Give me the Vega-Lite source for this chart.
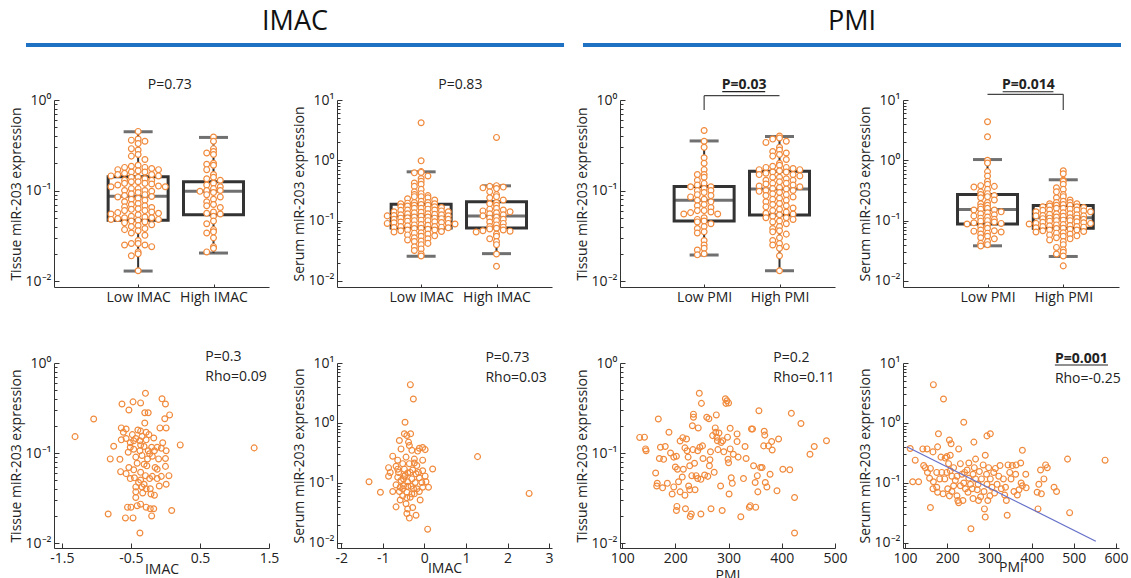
{
"$schema": "https://vega.github.io/schema/vega-lite/v6.json",
"background": "white",
"padding": {"left": 9, "top": 8, "right": 0, "bottom": 0},
"config": {
  "font": "Open Sans",
  "view": {"stroke": null},
  "axis": {"domainColor": "#333", "tickColor": "#333", "labelColor": "#222", "titleColor": "#222", "labelFontSize": 14, "titleFontSize": 14, "titleFontWeight": "normal", "grid": false, "labelFont": "Open Sans", "titleFont": "Open Sans", "labelFlush": false, "labelOverlap": false},
  "text": {"font": "Open Sans"}
},
"datasets": {
  "sections": [{"s": "IMAC"}, {"s": "PMI"}],
  "notes": [{"id":"p1","label":"P=0.73"},{"id":"p2","label":"P=0.83"},{"id":"p3","label":"P=0.03"},{"id":"p4","label":"P=0.014"},{"id":"p5a","label":"P=0.3"},{"id":"p5b","label":"Rho=0.09"},{"id":"p6a","label":"P=0.73"},{"id":"p6b","label":"Rho=0.03"},{"id":"p7a","label":"P=0.2"},{"id":"p7b","label":"Rho=0.11"},{"id":"p8a","label":"P=0.001"},{"id":"p8b","label":"Rho=-0.25"}],
  "st_ti": [{"g":1,"lo":0.0129,"q1":0.047,"md":0.0865,"q3":0.1416,"hi":0.446},{"g":2,"lo":0.0204,"q1":0.054,"md":0.098,"q3":0.125,"hi":0.386}],
  "st_si": [{"g":1,"lo":0.0257,"q1":0.0759,"md":0.12,"q3":0.1876,"hi":0.645},{"g":2,"lo":0.0284,"q1":0.0759,"md":0.12,"q3":0.205,"hi":0.378}],
  "st_tp": [{"g":1,"lo":0.0194,"q1":0.046,"md":0.078,"q3":0.111,"hi":0.353},{"g":2,"lo":0.013,"q1":0.0537,"md":0.104,"q3":0.163,"hi":0.395}],
  "st_sp": [{"g":1,"lo":0.0383,"q1":0.088,"md":0.1525,"q3":0.271,"hi":1.03},{"g":2,"lo":0.0255,"q1":0.0745,"md":0.112,"q3":0.178,"hi":0.476}],
  "bp_ti": [
{"g":1,"v":0.45},{"g":1,"v":0.37},{"g":1,"v":0.36},{"g":1,"v":0.35},{"g":1,"v":0.33},{"g":1,"v":0.29},{"g":1,"v":0.28},{"g":1,"v":0.25},{"g":1,"v":0.24},{"g":1,"v":0.22},
{"g":1,"v":0.19},{"g":1,"v":0.185},{"g":1,"v":0.18},{"g":1,"v":0.18},{"g":1,"v":0.175},{"g":1,"v":0.17},{"g":1,"v":0.17},{"g":1,"v":0.165},{"g":1,"v":0.16},{"g":1,"v":0.16},
{"g":1,"v":0.155},{"g":1,"v":0.15},{"g":1,"v":0.15},{"g":1,"v":0.145},{"g":1,"v":0.145},{"g":1,"v":0.14},{"g":1,"v":0.14},{"g":1,"v":0.135},{"g":1,"v":0.13},{"g":1,"v":0.13},
{"g":1,"v":0.125},{"g":1,"v":0.125},{"g":1,"v":0.12},{"g":1,"v":0.12},{"g":1,"v":0.118},{"g":1,"v":0.115},{"g":1,"v":0.112},{"g":1,"v":0.11},{"g":1,"v":0.11},{"g":1,"v":0.105},
{"g":1,"v":0.105},{"g":1,"v":0.1},{"g":1,"v":0.1},{"g":1,"v":0.098},{"g":1,"v":0.095},{"g":1,"v":0.092},{"g":1,"v":0.09},{"g":1,"v":0.088},{"g":1,"v":0.086},{"g":1,"v":0.085},
{"g":1,"v":0.082},{"g":1,"v":0.08},{"g":1,"v":0.078},{"g":1,"v":0.075},{"g":1,"v":0.072},{"g":1,"v":0.07},{"g":1,"v":0.068},{"g":1,"v":0.066},{"g":1,"v":0.065},{"g":1,"v":0.063},
{"g":1,"v":0.062},{"g":1,"v":0.06},{"g":1,"v":0.06},{"g":1,"v":0.058},{"g":1,"v":0.057},{"g":1,"v":0.056},{"g":1,"v":0.055},{"g":1,"v":0.054},{"g":1,"v":0.052},{"g":1,"v":0.051},
{"g":1,"v":0.05},{"g":1,"v":0.05},{"g":1,"v":0.049},{"g":1,"v":0.048},{"g":1,"v":0.048},{"g":1,"v":0.047},{"g":1,"v":0.046},{"g":1,"v":0.045},{"g":1,"v":0.044},{"g":1,"v":0.042},
{"g":1,"v":0.041},{"g":1,"v":0.04},{"g":1,"v":0.038},{"g":1,"v":0.037},{"g":1,"v":0.036},{"g":1,"v":0.034},{"g":1,"v":0.032},{"g":1,"v":0.028},{"g":1,"v":0.026},{"g":1,"v":0.026},
{"g":1,"v":0.025},{"g":1,"v":0.025},{"g":1,"v":0.024},{"g":1,"v":0.021},{"g":1,"v":0.02},{"g":1,"v":0.019},{"g":1,"v":0.013},
{"g":2,"v":0.39},{"g":2,"v":0.35},{"g":2,"v":0.29},{"g":2,"v":0.27},{"g":2,"v":0.26},{"g":2,"v":0.25},{"g":2,"v":0.2},{"g":2,"v":0.195},{"g":2,"v":0.19},{"g":2,"v":0.17},
{"g":2,"v":0.15},{"g":2,"v":0.14},{"g":2,"v":0.135},{"g":2,"v":0.13},{"g":2,"v":0.12},{"g":2,"v":0.115},{"g":2,"v":0.11},{"g":2,"v":0.105},{"g":2,"v":0.1},{"g":2,"v":0.1},
{"g":2,"v":0.098},{"g":2,"v":0.095},{"g":2,"v":0.09},{"g":2,"v":0.085},{"g":2,"v":0.08},{"g":2,"v":0.075},{"g":2,"v":0.07},{"g":2,"v":0.068},{"g":2,"v":0.065},{"g":2,"v":0.058},
{"g":2,"v":0.056},{"g":2,"v":0.055},{"g":2,"v":0.052},{"g":2,"v":0.046},{"g":2,"v":0.043},{"g":2,"v":0.037},{"g":2,"v":0.035},{"g":2,"v":0.034},{"g":2,"v":0.03},{"g":2,"v":0.024},
{"g":2,"v":0.023},{"g":2,"v":0.021}
  ],
  "bp_si": [
{"g":1,"v":4.2},{"g":1,"v":0.98},{"g":1,"v":0.65},{"g":1,"v":0.63},{"g":1,"v":0.62},{"g":1,"v":0.55},{"g":1,"v":0.5},{"g":1,"v":0.45},{"g":1,"v":0.42},{"g":1,"v":0.4},
{"g":1,"v":0.37},{"g":1,"v":0.33},{"g":1,"v":0.3},{"g":1,"v":0.28},{"g":1,"v":0.27},{"g":1,"v":0.26},{"g":1,"v":0.25},{"g":1,"v":0.25},{"g":1,"v":0.24},{"g":1,"v":0.23},
{"g":1,"v":0.22},{"g":1,"v":0.21},{"g":1,"v":0.2},{"g":1,"v":0.2},{"g":1,"v":0.195},{"g":1,"v":0.19},{"g":1,"v":0.19},{"g":1,"v":0.185},{"g":1,"v":0.18},{"g":1,"v":0.18},
{"g":1,"v":0.175},{"g":1,"v":0.17},{"g":1,"v":0.17},{"g":1,"v":0.165},{"g":1,"v":0.16},{"g":1,"v":0.16},{"g":1,"v":0.155},{"g":1,"v":0.15},{"g":1,"v":0.15},{"g":1,"v":0.148},
{"g":1,"v":0.145},{"g":1,"v":0.14},{"g":1,"v":0.14},{"g":1,"v":0.138},{"g":1,"v":0.135},{"g":1,"v":0.13},{"g":1,"v":0.13},{"g":1,"v":0.128},{"g":1,"v":0.125},{"g":1,"v":0.125},
{"g":1,"v":0.122},{"g":1,"v":0.12},{"g":1,"v":0.12},{"g":1,"v":0.118},{"g":1,"v":0.115},{"g":1,"v":0.115},{"g":1,"v":0.112},{"g":1,"v":0.11},{"g":1,"v":0.11},{"g":1,"v":0.108},
{"g":1,"v":0.105},{"g":1,"v":0.105},{"g":1,"v":0.102},{"g":1,"v":0.1},{"g":1,"v":0.1},{"g":1,"v":0.098},{"g":1,"v":0.096},{"g":1,"v":0.095},{"g":1,"v":0.093},{"g":1,"v":0.092},
{"g":1,"v":0.09},{"g":1,"v":0.09},{"g":1,"v":0.088},{"g":1,"v":0.086},{"g":1,"v":0.085},{"g":1,"v":0.084},{"g":1,"v":0.082},{"g":1,"v":0.08},{"g":1,"v":0.08},{"g":1,"v":0.078},
{"g":1,"v":0.077},{"g":1,"v":0.076},{"g":1,"v":0.075},{"g":1,"v":0.074},{"g":1,"v":0.072},{"g":1,"v":0.07},{"g":1,"v":0.07},{"g":1,"v":0.068},{"g":1,"v":0.066},{"g":1,"v":0.065},
{"g":1,"v":0.063},{"g":1,"v":0.062},{"g":1,"v":0.06},{"g":1,"v":0.058},{"g":1,"v":0.056},{"g":1,"v":0.055},{"g":1,"v":0.052},{"g":1,"v":0.05},{"g":1,"v":0.048},{"g":1,"v":0.046},
{"g":1,"v":0.045},{"g":1,"v":0.042},{"g":1,"v":0.04},{"g":1,"v":0.037},{"g":1,"v":0.034},{"g":1,"v":0.032},{"g":1,"v":0.028},{"g":1,"v":0.026},
{"g":2,"v":2.4},{"g":2,"v":0.38},{"g":2,"v":0.37},{"g":2,"v":0.36},{"g":2,"v":0.35},{"g":2,"v":0.34},{"g":2,"v":0.3},{"g":2,"v":0.27},{"g":2,"v":0.25},{"g":2,"v":0.24},
{"g":2,"v":0.22},{"g":2,"v":0.2},{"g":2,"v":0.19},{"g":2,"v":0.18},{"g":2,"v":0.16},{"g":2,"v":0.155},{"g":2,"v":0.15},{"g":2,"v":0.145},{"g":2,"v":0.14},{"g":2,"v":0.135},
{"g":2,"v":0.13},{"g":2,"v":0.125},{"g":2,"v":0.12},{"g":2,"v":0.115},{"g":2,"v":0.11},{"g":2,"v":0.105},{"g":2,"v":0.1},{"g":2,"v":0.095},{"g":2,"v":0.09},{"g":2,"v":0.085},
{"g":2,"v":0.08},{"g":2,"v":0.078},{"g":2,"v":0.075},{"g":2,"v":0.073},{"g":2,"v":0.07},{"g":2,"v":0.068},{"g":2,"v":0.067},{"g":2,"v":0.065},{"g":2,"v":0.06},{"g":2,"v":0.055},
{"g":2,"v":0.05},{"g":2,"v":0.045},{"g":2,"v":0.04},{"g":2,"v":0.028},{"g":2,"v":0.0175}
  ],
  "bp_tp": [
{"g":1,"v":0.46},{"g":1,"v":0.35},{"g":1,"v":0.3},{"g":1,"v":0.23},{"g":1,"v":0.2},{"g":1,"v":0.17},{"g":1,"v":0.15},{"g":1,"v":0.15},{"g":1,"v":0.14},{"g":1,"v":0.13},
{"g":1,"v":0.12},{"g":1,"v":0.115},{"g":1,"v":0.11},{"g":1,"v":0.11},{"g":1,"v":0.105},{"g":1,"v":0.1},{"g":1,"v":0.1},{"g":1,"v":0.095},{"g":1,"v":0.09},{"g":1,"v":0.088},
{"g":1,"v":0.085},{"g":1,"v":0.08},{"g":1,"v":0.078},{"g":1,"v":0.075},{"g":1,"v":0.07},{"g":1,"v":0.068},{"g":1,"v":0.065},{"g":1,"v":0.06},{"g":1,"v":0.06},{"g":1,"v":0.058},
{"g":1,"v":0.057},{"g":1,"v":0.055},{"g":1,"v":0.055},{"g":1,"v":0.05},{"g":1,"v":0.048},{"g":1,"v":0.046},{"g":1,"v":0.045},{"g":1,"v":0.043},{"g":1,"v":0.04},{"g":1,"v":0.038},
{"g":1,"v":0.035},{"g":1,"v":0.034},{"g":1,"v":0.028},{"g":1,"v":0.025},{"g":1,"v":0.023},{"g":1,"v":0.022},{"g":1,"v":0.02},{"g":1,"v":0.0195},
{"g":2,"v":0.4},{"g":2,"v":0.38},{"g":2,"v":0.37},{"g":2,"v":0.35},{"g":2,"v":0.34},{"g":2,"v":0.3},{"g":2,"v":0.28},{"g":2,"v":0.27},{"g":2,"v":0.26},{"g":2,"v":0.25},
{"g":2,"v":0.24},{"g":2,"v":0.22},{"g":2,"v":0.2},{"g":2,"v":0.19},{"g":2,"v":0.185},{"g":2,"v":0.18},{"g":2,"v":0.18},{"g":2,"v":0.175},{"g":2,"v":0.17},{"g":2,"v":0.17},
{"g":2,"v":0.165},{"g":2,"v":0.16},{"g":2,"v":0.16},{"g":2,"v":0.155},{"g":2,"v":0.15},{"g":2,"v":0.15},{"g":2,"v":0.145},{"g":2,"v":0.14},{"g":2,"v":0.14},{"g":2,"v":0.135},
{"g":2,"v":0.13},{"g":2,"v":0.13},{"g":2,"v":0.125},{"g":2,"v":0.12},{"g":2,"v":0.12},{"g":2,"v":0.118},{"g":2,"v":0.115},{"g":2,"v":0.112},{"g":2,"v":0.11},{"g":2,"v":0.108},
{"g":2,"v":0.105},{"g":2,"v":0.104},{"g":2,"v":0.1},{"g":2,"v":0.1},{"g":2,"v":0.098},{"g":2,"v":0.095},{"g":2,"v":0.092},{"g":2,"v":0.09},{"g":2,"v":0.088},{"g":2,"v":0.085},
{"g":2,"v":0.082},{"g":2,"v":0.08},{"g":2,"v":0.078},{"g":2,"v":0.075},{"g":2,"v":0.072},{"g":2,"v":0.07},{"g":2,"v":0.068},{"g":2,"v":0.066},{"g":2,"v":0.064},{"g":2,"v":0.062},
{"g":2,"v":0.06},{"g":2,"v":0.058},{"g":2,"v":0.056},{"g":2,"v":0.055},{"g":2,"v":0.054},{"g":2,"v":0.052},{"g":2,"v":0.05},{"g":2,"v":0.05},{"g":2,"v":0.048},{"g":2,"v":0.046},
{"g":2,"v":0.045},{"g":2,"v":0.043},{"g":2,"v":0.04},{"g":2,"v":0.038},{"g":2,"v":0.036},{"g":2,"v":0.035},{"g":2,"v":0.033},{"g":2,"v":0.03},{"g":2,"v":0.028},{"g":2,"v":0.026},
{"g":2,"v":0.025},{"g":2,"v":0.024},{"g":2,"v":0.023},{"g":2,"v":0.019},{"g":2,"v":0.013}
  ],
  "bp_sp": [
{"g":1,"v":4.35},{"g":1,"v":2.45},{"g":1,"v":1.0},{"g":1,"v":0.9},{"g":1,"v":0.65},{"g":1,"v":0.55},{"g":1,"v":0.45},{"g":1,"v":0.4},{"g":1,"v":0.38},{"g":1,"v":0.37},
{"g":1,"v":0.36},{"g":1,"v":0.33},{"g":1,"v":0.3},{"g":1,"v":0.28},{"g":1,"v":0.27},{"g":1,"v":0.26},{"g":1,"v":0.25},{"g":1,"v":0.24},{"g":1,"v":0.22},{"g":1,"v":0.2},
{"g":1,"v":0.19},{"g":1,"v":0.18},{"g":1,"v":0.17},{"g":1,"v":0.16},{"g":1,"v":0.155},{"g":1,"v":0.15},{"g":1,"v":0.15},{"g":1,"v":0.14},{"g":1,"v":0.135},{"g":1,"v":0.13},
{"g":1,"v":0.125},{"g":1,"v":0.12},{"g":1,"v":0.115},{"g":1,"v":0.11},{"g":1,"v":0.105},{"g":1,"v":0.1},{"g":1,"v":0.098},{"g":1,"v":0.095},{"g":1,"v":0.092},{"g":1,"v":0.09},
{"g":1,"v":0.088},{"g":1,"v":0.085},{"g":1,"v":0.08},{"g":1,"v":0.075},{"g":1,"v":0.07},{"g":1,"v":0.068},{"g":1,"v":0.067},{"g":1,"v":0.065},{"g":1,"v":0.062},{"g":1,"v":0.06},
{"g":1,"v":0.055},{"g":1,"v":0.052},{"g":1,"v":0.05},{"g":1,"v":0.045},{"g":1,"v":0.042},{"g":1,"v":0.04},{"g":1,"v":0.038},
{"g":2,"v":0.67},{"g":2,"v":0.6},{"g":2,"v":0.47},{"g":2,"v":0.45},{"g":2,"v":0.4},{"g":2,"v":0.35},{"g":2,"v":0.33},{"g":2,"v":0.3},{"g":2,"v":0.27},{"g":2,"v":0.25},
{"g":2,"v":0.24},{"g":2,"v":0.22},{"g":2,"v":0.21},{"g":2,"v":0.2},{"g":2,"v":0.2},{"g":2,"v":0.19},{"g":2,"v":0.19},{"g":2,"v":0.185},{"g":2,"v":0.18},{"g":2,"v":0.18},
{"g":2,"v":0.175},{"g":2,"v":0.17},{"g":2,"v":0.17},{"g":2,"v":0.165},{"g":2,"v":0.16},{"g":2,"v":0.16},{"g":2,"v":0.155},{"g":2,"v":0.15},{"g":2,"v":0.15},{"g":2,"v":0.148},
{"g":2,"v":0.145},{"g":2,"v":0.14},{"g":2,"v":0.14},{"g":2,"v":0.135},{"g":2,"v":0.13},{"g":2,"v":0.13},{"g":2,"v":0.128},{"g":2,"v":0.125},{"g":2,"v":0.122},{"g":2,"v":0.12},
{"g":2,"v":0.12},{"g":2,"v":0.118},{"g":2,"v":0.115},{"g":2,"v":0.112},{"g":2,"v":0.11},{"g":2,"v":0.11},{"g":2,"v":0.108},{"g":2,"v":0.105},{"g":2,"v":0.102},{"g":2,"v":0.1},
{"g":2,"v":0.1},{"g":2,"v":0.098},{"g":2,"v":0.096},{"g":2,"v":0.094},{"g":2,"v":0.092},{"g":2,"v":0.09},{"g":2,"v":0.09},{"g":2,"v":0.088},{"g":2,"v":0.086},{"g":2,"v":0.085},
{"g":2,"v":0.083},{"g":2,"v":0.082},{"g":2,"v":0.08},{"g":2,"v":0.08},{"g":2,"v":0.078},{"g":2,"v":0.076},{"g":2,"v":0.075},{"g":2,"v":0.074},{"g":2,"v":0.072},{"g":2,"v":0.07},
{"g":2,"v":0.07},{"g":2,"v":0.068},{"g":2,"v":0.066},{"g":2,"v":0.065},{"g":2,"v":0.063},{"g":2,"v":0.062},{"g":2,"v":0.06},{"g":2,"v":0.058},{"g":2,"v":0.056},{"g":2,"v":0.055},
{"g":2,"v":0.052},{"g":2,"v":0.05},{"g":2,"v":0.048},{"g":2,"v":0.045},{"g":2,"v":0.04},{"g":2,"v":0.036},{"g":2,"v":0.033},{"g":2,"v":0.03},{"g":2,"v":0.028},{"g":2,"v":0.026},
{"g":2,"v":0.0178}
  ],
  "sc_ti": [
{"imac":-1.31,"v":0.152},{"imac":-1.04,"v":0.239},{"imac":1.285,"v":0.114},{"imac":0.214,"v":0.123},{"imac":-0.75,"v":0.119},{"imac":-0.8,"v":0.086},{"imac":-0.83,"v":0.021},{"imac":-0.66,"v":0.085},{"imac":-0.65,"v":0.062},{"imac":-0.37,"v":0.0129},
{"imac":-0.29,"v":0.46},{"imac":-0.05,"v":0.4},{"imac":0.0,"v":0.35},{"imac":-0.63,"v":0.35},{"imac":-0.47,"v":0.37},{"imac":-0.36,"v":0.36},{"imac":-0.53,"v":0.3},{"imac":-0.3,"v":0.28},{"imac":-0.25,"v":0.28},{"imac":0.06,"v":0.265},
{"imac":-0.01,"v":0.24},{"imac":-0.3,"v":0.215},{"imac":0.01,"v":0.19},{"imac":-0.08,"v":0.19},{"imac":-0.64,"v":0.19},{"imac":-0.57,"v":0.185},{"imac":-0.61,"v":0.17},{"imac":-0.4,"v":0.18},{"imac":-0.36,"v":0.175},{"imac":-0.28,"v":0.17},
{"imac":-0.48,"v":0.16},{"imac":-0.17,"v":0.147},{"imac":-0.64,"v":0.14},{"imac":-0.57,"v":0.145},{"imac":-0.46,"v":0.137},{"imac":-0.37,"v":0.137},{"imac":-0.28,"v":0.14},{"imac":-0.04,"v":0.13},{"imac":-0.36,"v":0.123},{"imac":-0.51,"v":0.116},
{"imac":-0.46,"v":0.11},{"imac":-0.31,"v":0.118},{"imac":-0.2,"v":0.116},{"imac":-0.16,"v":0.106},{"imac":0.01,"v":0.106},{"imac":-0.12,"v":0.116},{"imac":-0.54,"v":0.102},{"imac":-0.37,"v":0.106},{"imac":-0.25,"v":0.106},{"imac":-0.34,"v":0.094},
{"imac":-0.19,"v":0.092},{"imac":-0.43,"v":0.09},{"imac":-0.26,"v":0.086},{"imac":-0.1,"v":0.086},{"imac":0.0,"v":0.087},{"imac":-0.41,"v":0.077},{"imac":-0.27,"v":0.072},{"imac":-0.15,"v":0.069},{"imac":0.0,"v":0.071},{"imac":-0.53,"v":0.069},
{"imac":-0.46,"v":0.065},{"imac":-0.57,"v":0.059},{"imac":-0.36,"v":0.061},{"imac":-0.29,"v":0.056},{"imac":-0.19,"v":0.055},{"imac":-0.06,"v":0.055},{"imac":-0.45,"v":0.053},{"imac":-0.23,"v":0.052},{"imac":-0.12,"v":0.052},{"imac":-0.39,"v":0.047},
{"imac":-0.31,"v":0.045},{"imac":-0.43,"v":0.042},{"imac":-0.34,"v":0.042},{"imac":-0.22,"v":0.04},{"imac":-0.09,"v":0.043},{"imac":-0.43,"v":0.037},{"imac":-0.33,"v":0.036},{"imac":-0.21,"v":0.035},{"imac":-0.16,"v":0.034},{"imac":-0.43,"v":0.032},
{"imac":-0.55,"v":0.025},{"imac":-0.5,"v":0.025},{"imac":-0.41,"v":0.026},{"imac":-0.36,"v":0.027},{"imac":-0.28,"v":0.025},{"imac":-0.22,"v":0.024},{"imac":-0.17,"v":0.024},{"imac":-0.2,"v":0.02},{"imac":-0.58,"v":0.019},{"imac":-0.47,"v":0.019},
{"imac":0.09,"v":0.023},{"imac":-0.43,"v":0.145},{"imac":-0.34,"v":0.153},{"imac":-0.24,"v":0.16},{"imac":-0.51,"v":0.13},{"imac":-0.23,"v":0.098},{"imac":-0.31,"v":0.075},{"imac":-0.12,"v":0.066},{"imac":-0.51,"v":0.052},{"imac":-0.36,"v":0.05},
{"imac":-0.28,"v":0.04},{"imac":-0.06,"v":0.113},{"imac":0.05,"v":0.056},{"imac":0.01,"v":0.045}
  ],
  "sc_si": [
{"imac":-0.336,"v":4.35},{"imac":-0.264,"v":2.51},{"imac":-0.464,"v":1.03},{"imac":1.28,"v":0.275},{"imac":2.52,"v":0.067},{"imac":-1.33,"v":0.105},{"imac":-1.056,"v":0.07},{"imac":0.08,"v":0.017},{"imac":0.2,"v":0.171},{"imac":-0.6,"v":0.51},
{"imac":-0.48,"v":0.66},{"imac":-0.42,"v":0.62},{"imac":-0.33,"v":0.66},{"imac":-0.38,"v":0.48},{"imac":-0.36,"v":0.42},{"imac":-0.56,"v":0.37},{"imac":-0.3,"v":0.35},{"imac":-0.12,"v":0.38},{"imac":-0.04,"v":0.39},{"imac":0.02,"v":0.36},
{"imac":-0.16,"v":0.34},{"imac":-0.76,"v":0.28},{"imac":-0.44,"v":0.27},{"imac":-0.24,"v":0.25},{"imac":-0.04,"v":0.24},{"imac":-0.64,"v":0.24},{"imac":-0.52,"v":0.21},{"imac":-0.36,"v":0.21},{"imac":-0.18,"v":0.195},{"imac":-0.86,"v":0.18},
{"imac":-0.68,"v":0.19},{"imac":-0.48,"v":0.17},{"imac":-0.28,"v":0.165},{"imac":-0.04,"v":0.16},{"imac":-0.82,"v":0.15},{"imac":-0.62,"v":0.15},{"imac":-0.4,"v":0.147},{"imac":-0.2,"v":0.142},{"imac":-0.86,"v":0.13},{"imac":-0.64,"v":0.125},
{"imac":-0.48,"v":0.13},{"imac":-0.3,"v":0.117},{"imac":-0.12,"v":0.122},{"imac":-0.56,"v":0.11},{"imac":-0.4,"v":0.105},{"imac":-0.22,"v":0.102},{"imac":0.04,"v":0.105},{"imac":-0.68,"v":0.093},{"imac":-0.5,"v":0.09},{"imac":-0.32,"v":0.088},
{"imac":-0.04,"v":0.085},{"imac":0.1,"v":0.085},{"imac":-0.76,"v":0.072},{"imac":-0.6,"v":0.072},{"imac":-0.42,"v":0.07},{"imac":-0.24,"v":0.066},{"imac":-0.12,"v":0.072},{"imac":-0.52,"v":0.061},{"imac":-0.34,"v":0.058},{"imac":-0.1,"v":0.052},
{"imac":-0.58,"v":0.052},{"imac":-0.44,"v":0.045},{"imac":-0.68,"v":0.04},{"imac":-0.4,"v":0.037},{"imac":-0.28,"v":0.039},{"imac":-0.42,"v":0.031},{"imac":-0.2,"v":0.029},{"imac":-0.36,"v":0.026},{"imac":-0.46,"v":0.135},{"imac":-0.34,"v":0.15},
{"imac":-0.26,"v":0.08},{"imac":-0.52,"v":0.08},{"imac":-0.4,"v":0.088},{"imac":-0.18,"v":0.08},{"imac":-0.64,"v":0.17},{"imac":-0.24,"v":0.215},{"imac":0.02,"v":0.13},{"imac":-0.06,"v":0.102},{"imac":-0.58,"v":0.085},{"imac":-0.3,"v":0.066},
{"imac":-0.42,"v":0.057},{"imac":-0.5,"v":0.117},{"imac":-0.14,"v":0.15}
  ],
  "sc_tp": [
{"pmi":133,"v":0.149},{"pmi":142,"v":0.15},{"pmi":144,"v":0.111},{"pmi":145,"v":0.106},{"pmi":168,"v":0.239},{"pmi":163,"v":0.06},{"pmi":165,"v":0.043},{"pmi":166,"v":0.046},{"pmi":170,"v":0.087},{"pmi":172,"v":0.116},
{"pmi":176,"v":0.041},{"pmi":178,"v":0.085},{"pmi":181,"v":0.118},{"pmi":185,"v":0.046},{"pmi":188,"v":0.17},{"pmi":191,"v":0.1},{"pmi":194,"v":0.035},{"pmi":197,"v":0.09},{"pmi":197,"v":0.042},{"pmi":200,"v":0.07},
{"pmi":202,"v":0.092},{"pmi":203,"v":0.0255},{"pmi":202,"v":0.023},{"pmi":204,"v":0.066},{"pmi":206,"v":0.048},{"pmi":209,"v":0.136},{"pmi":209,"v":0.037},{"pmi":213,"v":0.054},{"pmi":214,"v":0.148},{"pmi":215,"v":0.066},
{"pmi":218,"v":0.114},{"pmi":218,"v":0.034},{"pmi":221,"v":0.143},{"pmi":219,"v":0.024},{"pmi":222,"v":0.106},{"pmi":224,"v":0.09},{"pmi":225,"v":0.043},{"pmi":227,"v":0.039},{"pmi":227,"v":0.072},{"pmi":228,"v":0.0197},
{"pmi":230,"v":0.021},{"pmi":231,"v":0.056},{"pmi":232,"v":0.201},{"pmi":233,"v":0.109},{"pmi":234,"v":0.27},{"pmi":234,"v":0.25},{"pmi":236,"v":0.077},{"pmi":237,"v":0.039},{"pmi":239,"v":0.056},{"pmi":242,"v":0.052},
{"pmi":242,"v":0.106},{"pmi":243,"v":0.19},{"pmi":245,"v":0.46},{"pmi":246,"v":0.116},{"pmi":248,"v":0.051},{"pmi":248,"v":0.021},{"pmi":249,"v":0.356},{"pmi":251,"v":0.12},{"pmi":252,"v":0.087},{"pmi":255,"v":0.057},
{"pmi":259,"v":0.249},{"pmi":261,"v":0.055},{"pmi":263,"v":0.24},{"pmi":264,"v":0.072},{"pmi":265,"v":0.084},{"pmi":266,"v":0.103},{"pmi":267,"v":0.024},{"pmi":270,"v":0.156},{"pmi":273,"v":0.061},{"pmi":275,"v":0.19},
{"pmi":276,"v":0.17},{"pmi":277,"v":0.265},{"pmi":278,"v":0.15},{"pmi":279,"v":0.137},{"pmi":280,"v":0.109},{"pmi":282,"v":0.167},{"pmi":285,"v":0.043},{"pmi":286,"v":0.131},{"pmi":288,"v":0.023},{"pmi":289,"v":0.137},
{"pmi":291,"v":0.103},{"pmi":294,"v":0.4},{"pmi":295,"v":0.356},{"pmi":297,"v":0.38},{"pmi":298,"v":0.15},{"pmi":300,"v":0.36},{"pmi":299,"v":0.085},{"pmi":300,"v":0.078},{"pmi":301,"v":0.035},{"pmi":303,"v":0.111},
{"pmi":303,"v":0.188},{"pmi":305,"v":0.053},{"pmi":307,"v":0.046},{"pmi":309,"v":0.097},{"pmi":316,"v":0.163},{"pmi":316,"v":0.134},{"pmi":318,"v":0.09},{"pmi":323,"v":0.0196},{"pmi":328,"v":0.052},{"pmi":331,"v":0.118},
{"pmi":333,"v":0.087},{"pmi":339,"v":0.025},{"pmi":341,"v":0.026},{"pmi":343,"v":0.185},{"pmi":345,"v":0.185},{"pmi":347,"v":0.072},{"pmi":350,"v":0.047},{"pmi":351,"v":0.025},{"pmi":354,"v":0.056},{"pmi":355,"v":0.037},
{"pmi":357,"v":0.295},{"pmi":360,"v":0.069},{"pmi":363,"v":0.069},{"pmi":366,"v":0.12},{"pmi":367,"v":0.174},{"pmi":368,"v":0.158},{"pmi":369,"v":0.047},{"pmi":372,"v":0.042},{"pmi":375,"v":0.12},{"pmi":378,"v":0.058},
{"pmi":381,"v":0.134},{"pmi":382,"v":0.108},{"pmi":391,"v":0.038},{"pmi":394,"v":0.143},{"pmi":402,"v":0.066},{"pmi":415,"v":0.065},{"pmi":418,"v":0.276},{"pmi":424,"v":0.032},{"pmi":424,"v":0.0129},{"pmi":436,"v":0.213},
{"pmi":453,"v":0.097},{"pmi":461,"v":0.118},{"pmi":484,"v":0.137}
  ],
  "sc_sp": [
{"pmi":167,"v":4.35},{"pmi":191,"v":2.51},{"pmi":239,"v":1.03},{"pmi":179,"v":0.66},{"pmi":205,"v":0.52},{"pmi":209,"v":0.45},{"pmi":263,"v":0.48},{"pmi":294,"v":0.61},{"pmi":302,"v":0.66},{"pmi":227,"v":0.37},
{"pmi":112,"v":0.375},{"pmi":142,"v":0.37},{"pmi":152,"v":0.37},{"pmi":166,"v":0.33},{"pmi":177,"v":0.4},{"pmi":185,"v":0.27},{"pmi":195,"v":0.26},{"pmi":199,"v":0.275},{"pmi":207,"v":0.29},{"pmi":231,"v":0.21},
{"pmi":251,"v":0.215},{"pmi":267,"v":0.25},{"pmi":290,"v":0.29},{"pmi":378,"v":0.35},{"pmi":485,"v":0.25},{"pmi":574,"v":0.24},{"pmi":124,"v":0.24},{"pmi":144,"v":0.195},{"pmi":148,"v":0.18},{"pmi":153,"v":0.15},
{"pmi":158,"v":0.12},{"pmi":118,"v":0.105},{"pmi":132,"v":0.105},{"pmi":175,"v":0.15},{"pmi":182,"v":0.117},{"pmi":175,"v":0.085},{"pmi":177,"v":0.07},{"pmi":160,"v":0.039},{"pmi":190,"v":0.066},{"pmi":201,"v":0.08},
{"pmi":199,"v":0.15},{"pmi":203,"v":0.21},{"pmi":207,"v":0.16},{"pmi":211,"v":0.13},{"pmi":215,"v":0.18},{"pmi":219,"v":0.11},{"pmi":223,"v":0.061},{"pmi":225,"v":0.051},{"pmi":227,"v":0.047},{"pmi":231,"v":0.09},
{"pmi":235,"v":0.14},{"pmi":237,"v":0.051},{"pmi":239,"v":0.1},{"pmi":243,"v":0.08},{"pmi":247,"v":0.165},{"pmi":251,"v":0.12},{"pmi":255,"v":0.095},{"pmi":256,"v":0.0172},{"pmi":259,"v":0.08},{"pmi":261,"v":0.14},
{"pmi":264,"v":0.18},{"pmi":267,"v":0.117},{"pmi":271,"v":0.077},{"pmi":273,"v":0.095},{"pmi":276,"v":0.155},{"pmi":279,"v":0.059},{"pmi":281,"v":0.117},{"pmi":285,"v":0.2},{"pmi":287,"v":0.072},{"pmi":288,"v":0.037},
{"pmi":290,"v":0.027},{"pmi":293,"v":0.14},{"pmi":294,"v":0.095},{"pmi":296,"v":0.051},{"pmi":301,"v":0.061},{"pmi":302,"v":0.117},{"pmi":306,"v":0.085},{"pmi":310,"v":0.15},{"pmi":314,"v":0.175},{"pmi":318,"v":0.095},
{"pmi":322,"v":0.13},{"pmi":328,"v":0.08},{"pmi":333,"v":0.117},{"pmi":336,"v":0.063},{"pmi":338,"v":0.085},{"pmi":340,"v":0.051},{"pmi":342,"v":0.029},{"pmi":344,"v":0.2},{"pmi":348,"v":0.15},{"pmi":351,"v":0.117},
{"pmi":354,"v":0.195},{"pmi":358,"v":0.072},{"pmi":362,"v":0.14},{"pmi":363,"v":0.2},{"pmi":366,"v":0.063},{"pmi":370,"v":0.077},{"pmi":374,"v":0.215},{"pmi":375,"v":0.1},{"pmi":378,"v":0.09},{"pmi":386,"v":0.14},
{"pmi":387,"v":0.083},{"pmi":413,"v":0.07},{"pmi":415,"v":0.037},{"pmi":417,"v":0.095},{"pmi":421,"v":0.165},{"pmi":423,"v":0.066},{"pmi":429,"v":0.117},{"pmi":433,"v":0.2},{"pmi":437,"v":0.18},{"pmi":453,"v":0.085},
{"pmi":459,"v":0.072},{"pmi":490,"v":0.032},{"pmi":166,"v":0.08},{"pmi":167,"v":0.105},{"pmi":187,"v":0.15},{"pmi":194,"v":0.117},{"pmi":205,"v":0.061},{"pmi":211,"v":0.072},{"pmi":215,"v":0.09},{"pmi":223,"v":0.13},
{"pmi":241,"v":0.15},{"pmi":249,"v":0.07},{"pmi":261,"v":0.055},{"pmi":274,"v":0.051},{"pmi":312,"v":0.068},{"pmi":298,"v":0.18},{"pmi":325,"v":0.195},{"pmi":160,"v":0.175}
  ],
  "fit": [{"pmi": 104, "v": 0.403}, {"pmi": 552, "v": 0.0107}]
},
"vconcat": [
  {
    "width": 1064, "height": 4,
    "data": {"name": "sections"},
    "layer": [
      {"mark": {"type": "bar", "color": "#1F71C4"},
       "encoding": {"x": {"field": "s", "type": "nominal", "scale": {"range": [-28, 1067], "paddingInner": 0.034, "paddingOuter": 0}, "axis": null}}},
      {"mark": {"type": "text", "fontSize": 27, "dy": -23, "color": "#111", "baseline": "middle"},
       "encoding": {"x": {"field": "s", "type": "nominal", "axis": null}, "text": {"field": "s"}}}
    ]
  },
  {
    "columns": 4,
    "spacing": {"row": 76, "column": 68},
    "bounds": "flush",
    "concat": [
      {
        "width": 215, "height": 187,
        "layer": [
          {"data": {"name": "st_ti"}, "layer": [
            {"mark": {"type": "rule", "color": "#333", "strokeWidth": 2},
             "encoding": {
               "x": {"field": "g", "type": "quantitative", "title": null, "scale": {"domain": [-0.05, 2.67], "nice": false, "zero": false}, "axis": {"values": [1, 2], "labelExpr": "datum.value==1?'Low IMAC':'High IMAC'", "tickSize": -3, "labelPadding": 6}},
               "y": {"field": "lo", "type": "quantitative", "title": "Tissue miR-203 expression", "scale": {"type": "log", "domain": [0.0086, 1], "nice": false}, "axis": {"values": [0.01,0.02,0.03,0.04,0.05,0.06,0.07,0.08,0.09,0.1,0.2,0.3,0.4,0.5,0.6,0.7,0.8,0.9,1], "labelExpr": "datum.value==1?'10⁰':datum.value==0.1?'10⁻¹':datum.value==0.01?'10⁻²':''", "tickSize": {"condition": {"test": "datum.value==1||datum.value==0.1||datum.value==0.01", "value": -5}, "value": -3}, "labelPadding": 8, "titlePadding": 2}},
               "y2": {"field": "q1"}}},
            {"mark": {"type": "rule", "color": "#333", "strokeWidth": 2},
             "encoding": {"x": {"field": "g", "type": "quantitative"}, "y": {"field": "q3", "type": "quantitative"}, "y2": {"field": "hi"}}},
            {"mark": {"type": "tick", "orient": "horizontal", "size": 29, "thickness": 3, "color": "#333"},
             "encoding": {"x": {"field": "g", "type": "quantitative"}, "y": {"field": "hi", "type": "quantitative"}}},
            {"mark": {"type": "tick", "orient": "horizontal", "size": 29, "thickness": 3, "color": "#333"},
             "encoding": {"x": {"field": "g", "type": "quantitative"}, "y": {"field": "lo", "type": "quantitative"}}},
            {"mark": {"type": "bar", "orient": "vertical", "width": 60, "filled": false, "color": "#333", "strokeWidth": 3},
             "encoding": {"x": {"field": "g", "type": "quantitative"}, "y": {"field": "q1", "type": "quantitative"}, "y2": {"field": "q3"}}},
            {"mark": {"type": "tick", "orient": "horizontal", "size": 60, "thickness": 3, "color": "#333"},
             "encoding": {"x": {"field": "g", "type": "quantitative"}, "y": {"field": "md", "type": "quantitative"}}}
          ]},
          {"data": {"name": "bp_ti"},
           "transform": [
             {"calculate": "floor(log(datum.v)/LN10/0.06)", "as": "bin"},
             {"window": [{"op": "row_number", "as": "k"}], "groupby": ["g", "bin"], "sort": [{"field": "v", "order": "descending"}]},
             {"calculate": "datum.g + (datum.k % 2 == 0 ? -1 : 1) * floor(datum.k / 2) * 0.09", "as": "bx"}
           ],
           "mark": {"type": "point", "shape": "circle", "filled": true, "fill": "white", "stroke": "#F08A3C", "strokeWidth": 1.2, "size": 34, "opacity": 1},
           "encoding": {"x": {"field": "bx", "type": "quantitative"}, "y": {"field": "v", "type": "quantitative"}}},
          {"data": {"name": "notes"}, "transform": [{"filter": "datum.id=='p1'"}],
           "mark": {"type": "text", "fontSize": 14, "color": "#222", "baseline": "middle"},
           "encoding": {"x": {"datum": 1.42, "type": "quantitative"}, "y": {"datum": 1.465, "type": "quantitative"}, "text": {"field": "label"}}}
        ]
      },
      {
        "width": 215, "height": 187,
        "layer": [
          {"data": {"name": "st_si"}, "layer": [
            {"mark": {"type": "rule", "color": "#333", "strokeWidth": 2},
             "encoding": {
               "x": {"field": "g", "type": "quantitative", "title": null, "scale": {"domain": [-0.05, 2.67], "nice": false, "zero": false}, "axis": {"values": [1, 2], "labelExpr": "datum.value==1?'Low IMAC':'High IMAC'", "tickSize": -3, "labelPadding": 6}},
               "y": {"field": "lo", "type": "quantitative", "title": "Serum miR-203 expression", "scale": {"type": "log", "domain": [0.00795, 10], "nice": false}, "axis": {"values": [0.01,0.02,0.03,0.04,0.05,0.06,0.07,0.08,0.09,0.1,0.2,0.3,0.4,0.5,0.6,0.7,0.8,0.9,1,2,3,4,5,6,7,8,9,10], "labelExpr": "datum.value==10?'10¹':datum.value==1?'10⁰':datum.value==0.1?'10⁻¹':datum.value==0.01?'10⁻²':''", "tickSize": {"condition": {"test": "datum.value==10||datum.value==1||datum.value==0.1||datum.value==0.01", "value": -5}, "value": -3}, "labelPadding": 8, "titlePadding": 2}},
               "y2": {"field": "q1"}}},
            {"mark": {"type": "rule", "color": "#333", "strokeWidth": 2},
             "encoding": {"x": {"field": "g", "type": "quantitative"}, "y": {"field": "q3", "type": "quantitative"}, "y2": {"field": "hi"}}},
            {"mark": {"type": "tick", "orient": "horizontal", "size": 29, "thickness": 3, "color": "#333"},
             "encoding": {"x": {"field": "g", "type": "quantitative"}, "y": {"field": "hi", "type": "quantitative"}}},
            {"mark": {"type": "tick", "orient": "horizontal", "size": 29, "thickness": 3, "color": "#333"},
             "encoding": {"x": {"field": "g", "type": "quantitative"}, "y": {"field": "lo", "type": "quantitative"}}},
            {"mark": {"type": "bar", "orient": "vertical", "width": 60, "filled": false, "color": "#333", "strokeWidth": 3},
             "encoding": {"x": {"field": "g", "type": "quantitative"}, "y": {"field": "q1", "type": "quantitative"}, "y2": {"field": "q3"}}},
            {"mark": {"type": "tick", "orient": "horizontal", "size": 60, "thickness": 3, "color": "#333"},
             "encoding": {"x": {"field": "g", "type": "quantitative"}, "y": {"field": "md", "type": "quantitative"}}}
          ]},
          {"data": {"name": "bp_si"},
           "transform": [
             {"calculate": "floor(log(datum.v)/LN10/0.066)", "as": "bin"},
             {"window": [{"op": "row_number", "as": "k"}], "groupby": ["g", "bin"], "sort": [{"field": "v", "order": "descending"}]},
             {"calculate": "datum.g + (datum.k % 2 == 0 ? -1 : 1) * floor(datum.k / 2) * 0.09", "as": "bx"}
           ],
           "mark": {"type": "point", "shape": "circle", "filled": true, "fill": "white", "stroke": "#F08A3C", "strokeWidth": 1.2, "size": 34, "opacity": 1},
           "encoding": {"x": {"field": "bx", "type": "quantitative"}, "y": {"field": "v", "type": "quantitative"}}},
          {"data": {"name": "notes"}, "transform": [{"filter": "datum.id=='p2'"}],
           "mark": {"type": "text", "fontSize": 14, "color": "#222", "baseline": "middle"},
           "encoding": {"x": {"datum": 1.52, "type": "quantitative"}, "y": {"datum": 17.7, "type": "quantitative"}, "text": {"field": "label"}}}
        ]
      },
      {
        "width": 215, "height": 187,
        "layer": [
          {"data": {"name": "st_tp"}, "layer": [
            {"mark": {"type": "rule", "color": "#333", "strokeWidth": 2},
             "encoding": {
               "x": {"field": "g", "type": "quantitative", "title": null, "scale": {"domain": [-0.05, 2.67], "nice": false, "zero": false}, "axis": {"values": [1, 2], "labelExpr": "datum.value==1?'Low PMI':'High PMI'", "tickSize": -3, "labelPadding": 6}},
               "y": {"field": "lo", "type": "quantitative", "title": "Tissue miR-203 expression", "scale": {"type": "log", "domain": [0.0086, 1], "nice": false}, "axis": {"values": [0.01,0.02,0.03,0.04,0.05,0.06,0.07,0.08,0.09,0.1,0.2,0.3,0.4,0.5,0.6,0.7,0.8,0.9,1], "labelExpr": "datum.value==1?'10⁰':datum.value==0.1?'10⁻¹':datum.value==0.01?'10⁻²':''", "tickSize": {"condition": {"test": "datum.value==1||datum.value==0.1||datum.value==0.01", "value": -5}, "value": -3}, "labelPadding": 8, "titlePadding": 2}},
               "y2": {"field": "q1"}}},
            {"mark": {"type": "rule", "color": "#333", "strokeWidth": 2},
             "encoding": {"x": {"field": "g", "type": "quantitative"}, "y": {"field": "q3", "type": "quantitative"}, "y2": {"field": "hi"}}},
            {"mark": {"type": "tick", "orient": "horizontal", "size": 29, "thickness": 3, "color": "#333"},
             "encoding": {"x": {"field": "g", "type": "quantitative"}, "y": {"field": "hi", "type": "quantitative"}}},
            {"mark": {"type": "tick", "orient": "horizontal", "size": 29, "thickness": 3, "color": "#333"},
             "encoding": {"x": {"field": "g", "type": "quantitative"}, "y": {"field": "lo", "type": "quantitative"}}},
            {"mark": {"type": "bar", "orient": "vertical", "width": 60, "filled": false, "color": "#333", "strokeWidth": 3},
             "encoding": {"x": {"field": "g", "type": "quantitative"}, "y": {"field": "q1", "type": "quantitative"}, "y2": {"field": "q3"}}},
            {"mark": {"type": "tick", "orient": "horizontal", "size": 60, "thickness": 3, "color": "#333"},
             "encoding": {"x": {"field": "g", "type": "quantitative"}, "y": {"field": "md", "type": "quantitative"}}}
          ]},
          {"data": {"name": "bp_tp"},
           "transform": [
             {"calculate": "floor(log(datum.v)/LN10/0.06)", "as": "bin"},
             {"window": [{"op": "row_number", "as": "k"}], "groupby": ["g", "bin"], "sort": [{"field": "v", "order": "descending"}]},
             {"calculate": "datum.g + (datum.k % 2 == 0 ? -1 : 1) * floor(datum.k / 2) * 0.09", "as": "bx"}
           ],
           "mark": {"type": "point", "shape": "circle", "filled": true, "fill": "white", "stroke": "#F08A3C", "strokeWidth": 1.2, "size": 34, "opacity": 1},
           "encoding": {"x": {"field": "bx", "type": "quantitative"}, "y": {"field": "v", "type": "quantitative"}}},
          {"data": {"name": "notes"}, "transform": [{"filter": "datum.id=='p3'"}],
           "layer": [
             {"mark": {"type": "rule", "color": "#444", "strokeWidth": 1.2},
              "encoding": {"x": {"datum": 1, "type": "quantitative"}, "x2": {"datum": 2}, "y": {"datum": 1.116, "type": "quantitative"}}},
             {"mark": {"type": "rule", "color": "#444", "strokeWidth": 1.2},
              "encoding": {"x": {"datum": 1, "type": "quantitative"}, "y": {"datum": 1.116, "type": "quantitative"}, "y2": {"datum": 0.776}}},
             {"mark": {"type": "rule", "color": "#222", "strokeWidth": 1.2},
              "encoding": {"x": {"datum": 1.24, "type": "quantitative"}, "x2": {"datum": 1.81}, "y": {"datum": 1.235, "type": "quantitative"}}},
             {"mark": {"type": "text", "fontSize": 14, "fontWeight": "bold", "color": "#222", "baseline": "middle"},
              "encoding": {"x": {"datum": 1.53, "type": "quantitative"}, "y": {"datum": 1.465, "type": "quantitative"}, "text": {"field": "label"}}}
           ]}
        ]
      },
      {
        "width": 216, "height": 187,
        "layer": [
          {"data": {"name": "st_sp"}, "layer": [
            {"mark": {"type": "rule", "color": "#333", "strokeWidth": 2},
             "encoding": {
               "x": {"field": "g", "type": "quantitative", "title": null, "scale": {"domain": [-0.05, 2.67], "nice": false, "zero": false}, "axis": {"values": [1, 2], "labelExpr": "datum.value==1?'Low PMI':'High PMI'", "tickSize": -3, "labelPadding": 6}},
               "y": {"field": "lo", "type": "quantitative", "title": "Serum miR-203 expression", "scale": {"type": "log", "domain": [0.00795, 10], "nice": false}, "axis": {"values": [0.01,0.02,0.03,0.04,0.05,0.06,0.07,0.08,0.09,0.1,0.2,0.3,0.4,0.5,0.6,0.7,0.8,0.9,1,2,3,4,5,6,7,8,9,10], "labelExpr": "datum.value==10?'10¹':datum.value==1?'10⁰':datum.value==0.1?'10⁻¹':datum.value==0.01?'10⁻²':''", "tickSize": {"condition": {"test": "datum.value==10||datum.value==1||datum.value==0.1||datum.value==0.01", "value": -5}, "value": -3}, "labelPadding": 8, "titlePadding": 2}},
               "y2": {"field": "q1"}}},
            {"mark": {"type": "rule", "color": "#333", "strokeWidth": 2},
             "encoding": {"x": {"field": "g", "type": "quantitative"}, "y": {"field": "q3", "type": "quantitative"}, "y2": {"field": "hi"}}},
            {"mark": {"type": "tick", "orient": "horizontal", "size": 29, "thickness": 3, "color": "#333"},
             "encoding": {"x": {"field": "g", "type": "quantitative"}, "y": {"field": "hi", "type": "quantitative"}}},
            {"mark": {"type": "tick", "orient": "horizontal", "size": 29, "thickness": 3, "color": "#333"},
             "encoding": {"x": {"field": "g", "type": "quantitative"}, "y": {"field": "lo", "type": "quantitative"}}},
            {"mark": {"type": "bar", "orient": "vertical", "width": 60, "filled": false, "color": "#333", "strokeWidth": 3},
             "encoding": {"x": {"field": "g", "type": "quantitative"}, "y": {"field": "q1", "type": "quantitative"}, "y2": {"field": "q3"}}},
            {"mark": {"type": "tick", "orient": "horizontal", "size": 60, "thickness": 3, "color": "#333"},
             "encoding": {"x": {"field": "g", "type": "quantitative"}, "y": {"field": "md", "type": "quantitative"}}}
          ]},
          {"data": {"name": "bp_sp"},
           "transform": [
             {"calculate": "floor(log(datum.v)/LN10/0.066)", "as": "bin"},
             {"window": [{"op": "row_number", "as": "k"}], "groupby": ["g", "bin"], "sort": [{"field": "v", "order": "descending"}]},
             {"calculate": "datum.g + (datum.k % 2 == 0 ? -1 : 1) * floor(datum.k / 2) * 0.09", "as": "bx"}
           ],
           "mark": {"type": "point", "shape": "circle", "filled": true, "fill": "white", "stroke": "#F08A3C", "strokeWidth": 1.2, "size": 34, "opacity": 1},
           "encoding": {"x": {"field": "bx", "type": "quantitative"}, "y": {"field": "v", "type": "quantitative"}}},
          {"data": {"name": "notes"}, "transform": [{"filter": "datum.id=='p4'"}],
           "layer": [
             {"mark": {"type": "rule", "color": "#444", "strokeWidth": 1.2},
              "encoding": {"x": {"datum": 1, "type": "quantitative"}, "x2": {"datum": 2}, "y": {"datum": 12.4, "type": "quantitative"}}},
             {"mark": {"type": "rule", "color": "#444", "strokeWidth": 1.2},
              "encoding": {"x": {"datum": 2, "type": "quantitative"}, "y": {"datum": 12.4, "type": "quantitative"}, "y2": {"datum": 6.82}}},
             {"mark": {"type": "rule", "color": "#222", "strokeWidth": 1.2},
              "encoding": {"x": {"datum": 1.2, "type": "quantitative"}, "x2": {"datum": 1.87}, "y": {"datum": 13.7, "type": "quantitative"}}},
             {"mark": {"type": "text", "fontSize": 14, "fontWeight": "bold", "color": "#222", "baseline": "middle"},
              "encoding": {"x": {"datum": 1.54, "type": "quantitative"}, "y": {"datum": 17.7, "type": "quantitative"}, "text": {"field": "label"}}}
           ]}
        ]
      },
      {
        "width": 215, "height": 185,
        "layer": [
          {"data": {"name": "sc_ti"},
           "mark": {"type": "point", "shape": "circle", "filled": false, "color": "#F08A3C", "strokeWidth": 1.2, "size": 34, "opacity": 1},
           "encoding": {
             "x": {"field": "imac", "type": "quantitative", "title": "IMAC", "scale": {"domain": [-1.615, 1.5], "nice": false, "zero": false}, "axis": {"values": [-1.5,-1,-0.5,0,0.5,1,1.5], "labelExpr": "indexof([-1.5,-0.5,0.5,1.5], datum.value) >= 0 ? toString(datum.value) : ''", "tickSize": {"condition": {"test": "indexof([-1.5,-0.5,0.5,1.5], datum.value) >= 0", "value": -5}, "value": -3}, "labelPadding": 8, "titlePadding": -3}},
             "y": {"field": "v", "type": "quantitative", "title": "Tissue miR-203 expression", "scale": {"type": "log", "domain": [0.0088, 1], "nice": false}, "axis": {"values": [0.01,0.02,0.03,0.04,0.05,0.06,0.07,0.08,0.09,0.1,0.2,0.3,0.4,0.5,0.6,0.7,0.8,0.9,1], "labelExpr": "datum.value==1?'10⁰':datum.value==0.1?'10⁻¹':datum.value==0.01?'10⁻²':''", "tickSize": {"condition": {"test": "datum.value==1||datum.value==0.1||datum.value==0.01", "value": -5}, "value": -3}, "labelPadding": 8, "titlePadding": 2}}}},
          {"data": {"name": "notes"}, "transform": [{"filter": "datum.id=='p5a'"}],
           "mark": {"type": "text", "fontSize": 14, "color": "#222", "align": "left", "baseline": "middle"},
           "encoding": {"x": {"datum": 0.578, "type": "quantitative"}, "y": {"datum": 1.166, "type": "quantitative"}, "text": {"field": "label"}}},
          {"data": {"name": "notes"}, "transform": [{"filter": "datum.id=='p5b'"}],
           "mark": {"type": "text", "fontSize": 14, "color": "#222", "align": "left", "baseline": "middle"},
           "encoding": {"x": {"datum": 0.578, "type": "quantitative"}, "y": {"datum": 0.699, "type": "quantitative"}, "text": {"field": "label"}}}
        ]
      },
      {
        "width": 215, "height": 185,
        "layer": [
          {"data": {"name": "sc_si"},
           "mark": {"type": "point", "shape": "circle", "filled": false, "color": "#F08A3C", "strokeWidth": 1.2, "size": 34, "opacity": 1},
           "encoding": {
             "x": {"field": "imac", "type": "quantitative", "title": "IMAC", "scale": {"domain": [-2.1, 3.07], "nice": false, "zero": false}, "axis": {"values": [-2,-1.5,-1,-0.5,0,0.5,1,1.5,2,2.5,3], "labelExpr": "datum.value % 1 == 0 ? toString(datum.value) : ''", "tickSize": {"condition": {"test": "datum.value % 1 == 0", "value": -5}, "value": -3}, "labelPadding": 8, "titlePadding": -4}},
             "y": {"field": "v", "type": "quantitative", "title": "Serum miR-203 expression", "scale": {"type": "log", "domain": [0.00825, 10], "nice": false}, "axis": {"values": [0.01,0.02,0.03,0.04,0.05,0.06,0.07,0.08,0.09,0.1,0.2,0.3,0.4,0.5,0.6,0.7,0.8,0.9,1,2,3,4,5,6,7,8,9,10], "labelExpr": "datum.value==10?'10¹':datum.value==1?'10⁰':datum.value==0.1?'10⁻¹':datum.value==0.01?'10⁻²':''", "tickSize": {"condition": {"test": "datum.value==10||datum.value==1||datum.value==0.1||datum.value==0.01", "value": -5}, "value": -3}, "labelPadding": 8, "titlePadding": 2}}}},
          {"data": {"name": "notes"}, "transform": [{"filter": "datum.id=='p6a'"}],
           "mark": {"type": "text", "fontSize": 14, "color": "#222", "align": "left", "baseline": "middle"},
           "encoding": {"x": {"datum": 1.469, "type": "quantitative"}, "y": {"datum": 12.1, "type": "quantitative"}, "text": {"field": "label"}}},
          {"data": {"name": "notes"}, "transform": [{"filter": "datum.id=='p6b'"}],
           "mark": {"type": "text", "fontSize": 14, "color": "#222", "align": "left", "baseline": "middle"},
           "encoding": {"x": {"datum": 1.469, "type": "quantitative"}, "y": {"datum": 5.62, "type": "quantitative"}, "text": {"field": "label"}}}
        ]
      },
      {
        "width": 215, "height": 185,
        "layer": [
          {"data": {"name": "sc_tp"},
           "mark": {"type": "point", "shape": "circle", "filled": false, "color": "#F08A3C", "strokeWidth": 1.2, "size": 34, "opacity": 1},
           "encoding": {
             "x": {"field": "pmi", "type": "quantitative", "title": "PMI", "scale": {"domain": [96, 500], "nice": false, "zero": false}, "axis": {"values": [100,150,200,250,300,350,400,450,500], "labelExpr": "datum.value % 100 == 0 ? toString(datum.value) : ''", "tickSize": {"condition": {"test": "datum.value % 100 == 0", "value": -5}, "value": -3}, "labelPadding": 8, "titlePadding": 3}},
             "y": {"field": "v", "type": "quantitative", "title": "Tissue miR-203 expression", "scale": {"type": "log", "domain": [0.0088, 1], "nice": false}, "axis": {"values": [0.01,0.02,0.03,0.04,0.05,0.06,0.07,0.08,0.09,0.1,0.2,0.3,0.4,0.5,0.6,0.7,0.8,0.9,1], "labelExpr": "datum.value==1?'10⁰':datum.value==0.1?'10⁻¹':datum.value==0.01?'10⁻²':''", "tickSize": {"condition": {"test": "datum.value==1||datum.value==0.1||datum.value==0.01", "value": -5}, "value": -3}, "labelPadding": 8, "titlePadding": 2}}}},
          {"data": {"name": "notes"}, "transform": [{"filter": "datum.id=='p7a'"}],
           "mark": {"type": "text", "fontSize": 14, "color": "#222", "align": "left", "baseline": "middle"},
           "encoding": {"x": {"datum": 384, "type": "quantitative"}, "y": {"datum": 1.137, "type": "quantitative"}, "text": {"field": "label"}}},
          {"data": {"name": "notes"}, "transform": [{"filter": "datum.id=='p7b'"}],
           "mark": {"type": "text", "fontSize": 14, "color": "#222", "align": "left", "baseline": "middle"},
           "encoding": {"x": {"datum": 384, "type": "quantitative"}, "y": {"datum": 0.681, "type": "quantitative"}, "text": {"field": "label"}}}
        ]
      },
      {
        "width": 216, "height": 185,
        "layer": [
          {"data": {"name": "sc_sp"},
           "mark": {"type": "point", "shape": "circle", "filled": false, "color": "#F08A3C", "strokeWidth": 1.2, "size": 34, "opacity": 1},
           "encoding": {
             "x": {"field": "pmi", "type": "quantitative", "title": "PMI", "scale": {"domain": [95, 607], "nice": false, "zero": false}, "axis": {"values": [100,150,200,250,300,350,400,450,500,550,600], "labelExpr": "datum.value % 100 == 0 ? toString(datum.value) : ''", "tickSize": {"condition": {"test": "datum.value % 100 == 0", "value": -5}, "value": -3}, "labelPadding": 8, "titlePadding": -5}},
             "y": {"field": "v", "type": "quantitative", "title": "Serum miR-203 expression", "scale": {"type": "log", "domain": [0.00825, 10], "nice": false}, "axis": {"values": [0.01,0.02,0.03,0.04,0.05,0.06,0.07,0.08,0.09,0.1,0.2,0.3,0.4,0.5,0.6,0.7,0.8,0.9,1,2,3,4,5,6,7,8,9,10], "labelExpr": "datum.value==10?'10¹':datum.value==1?'10⁰':datum.value==0.1?'10⁻¹':datum.value==0.01?'10⁻²':''", "tickSize": {"condition": {"test": "datum.value==10||datum.value==1||datum.value==0.1||datum.value==0.01", "value": -5}, "value": -3}, "labelPadding": 8, "titlePadding": 2}}}},
          {"data": {"name": "fit"},
           "mark": {"type": "line", "color": "#6670C8", "strokeWidth": 1.2},
           "encoding": {"x": {"field": "pmi", "type": "quantitative"}, "y": {"field": "v", "type": "quantitative"}}},
          {"data": {"name": "notes"}, "transform": [{"filter": "datum.id=='p8a'"}],
           "layer": [
             {"mark": {"type": "text", "fontSize": 14, "fontWeight": "bold", "color": "#222", "align": "left", "baseline": "middle"},
              "encoding": {"x": {"datum": 455, "type": "quantitative"}, "y": {"datum": 11.7, "type": "quantitative"}, "text": {"field": "label"}}},
             {"mark": {"type": "rule", "color": "#222", "strokeWidth": 1.2},
              "encoding": {"x": {"datum": 455, "type": "quantitative"}, "x2": {"datum": 581}, "y": {"datum": 9.26, "type": "quantitative"}}}
           ]},
          {"data": {"name": "notes"}, "transform": [{"filter": "datum.id=='p8b'"}],
           "mark": {"type": "text", "fontSize": 14, "color": "#222", "align": "left", "baseline": "middle"},
           "encoding": {"x": {"datum": 455, "type": "quantitative"}, "y": {"datum": 5.41, "type": "quantitative"}, "text": {"field": "label"}}}
        ]
      }
    ]
  }
],
"spacing": 53,
"bounds": "flush"
}
